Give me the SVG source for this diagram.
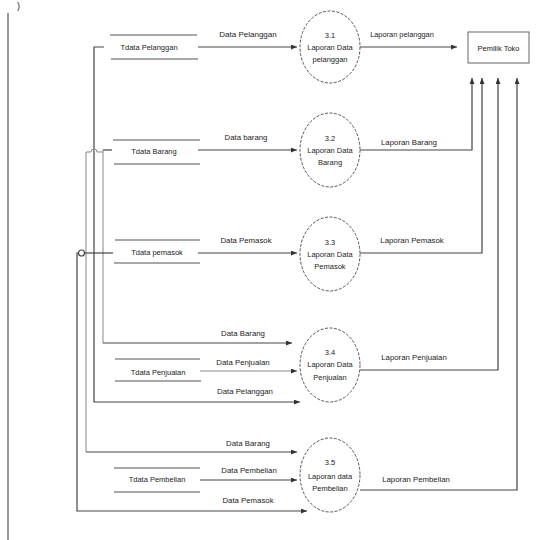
<svg xmlns="http://www.w3.org/2000/svg" width="557" height="540" viewBox="0 0 557 540">
<style>
text{font-family:"Liberation Sans",Arial,sans-serif;fill:#222;}
.s{font-size:7.5px;text-anchor:middle;}
.l{font-size:7.8px;text-anchor:middle;}
.st{stroke:#555;stroke-width:1.2;fill:none;}
.f{stroke:#444;stroke-width:1.2;fill:none;}
.fl{stroke:#888;stroke-width:1;fill:none;}
.p{fill:#fff;stroke:#555;stroke-width:1;stroke-dasharray:3,1.5;}
</style>
<defs>
<marker id="a" markerWidth="6" markerHeight="5" refX="6" refY="2.5" orient="auto" markerUnits="userSpaceOnUse">
<path d="M0,0 L6,2.5 L0,5 z" fill="#333"/>
</marker>
</defs>
<rect width="557" height="540" fill="#fff"/>
<line x1="8" y1="13" x2="8" y2="540" stroke="#555" stroke-width="1.2"/>
<text x="17" y="9" style="font-size:9px">)</text>

<g id="connectors">
<path class="f" d="M198,47 H297" marker-end="url(#a)"/>
<path class="f" d="M198,150 H297" marker-end="url(#a)"/>
<path class="f" d="M198,253 H297" marker-end="url(#a)"/>
<path class="fl" d="M200,371 H297" marker-end="url(#a)"/>
<path class="f" d="M200,480 H297" marker-end="url(#a)"/>
<path class="f" d="M104,47 H94 V402 H300" marker-end="url(#a)"/>
<path class="f" d="M112,150 H103" />
<path class="fl" d="M103,150 V343" />
<path class="f" d="M103,343 H292" marker-end="url(#a)"/>
<path class="fl" d="M103,152 H97 A3,3 0 0 0 91,152 H86 V452" />
<path class="f" d="M86,452 H297" marker-end="url(#a)"/>
<path class="f" d="M113,253 H84.5" />
<circle cx="81.5" cy="253" r="3" class="f"/>
<path class="f" d="M78.5,253 H77 V511 H307" marker-end="url(#a)"/>
<path class="f" d="M360,47 H457" marker-end="url(#a)"/>
<path class="f" d="M360,150 H472 V78" marker-end="url(#a)"/>
<path class="f" d="M360,253 H482 V78" marker-end="url(#a)"/>
<path class="f" d="M360,370 H498 V78" marker-end="url(#a)"/>
<path class="f" d="M360,490 H517 V78" marker-end="url(#a)"/>
<text class="l" x="248" y="37" style="font-size:8px">Data Pelanggan</text>
<text class="l" x="246" y="140">Data barang</text>
<text class="l" x="246" y="243">Data Pemasok</text>
<text class="l" x="243" y="336">Data Barang</text>
<text class="l" x="243" y="365">Data Penjualan</text>
<text class="l" x="245" y="394">Data Pelanggan</text>
<text class="l" x="248" y="446">Data Barang</text>
<text class="l" x="249" y="473">Data Pembelian</text>
<text class="l" x="248" y="503">Data Pemasok</text>
<text class="l" x="402" y="37" style="font-size:7.4px">Laporan pelanggan</text>
<text class="l" x="409" y="145">Laporan Barang</text>
<text class="l" x="412" y="243">Laporan Pemasok</text>
<text class="l" x="414" y="360">Laporan Penjualan</text>
<text class="l" x="416" y="482">Laporan Pembelian</text>
</g>

<g id="store-pelanggan">
<line class="st" x1="110" y1="35" x2="197" y2="35"/>
<line class="st" x1="111" y1="59" x2="198" y2="59"/>
<text class="s" x="149" y="50">Tdata Pelanggan</text>
</g>
<g id="store-barang">
<line class="st" x1="113" y1="140" x2="200" y2="140"/>
<line class="st" x1="114" y1="164" x2="200" y2="164"/>
<text class="s" x="154" y="154">Tdata Barang</text>
</g>
<g id="store-pemasok">
<line class="st" x1="115" y1="240" x2="200" y2="240"/>
<line class="st" x1="114" y1="263" x2="200" y2="263"/>
<text class="s" x="157" y="255">Tdata pemasok</text>
</g>
<g id="store-penjualan">
<line class="st" x1="115" y1="359" x2="200" y2="359" stroke="#999"/>
<line class="st" x1="115" y1="381" x2="201" y2="381"/>
<text class="s" x="158" y="375">Tdata Penjualan</text>
</g>
<g id="store-pembelian">
<line class="st" x1="114" y1="468" x2="200" y2="468"/>
<line class="st" x1="114" y1="492" x2="200" y2="492" stroke="#aaa"/>
<text class="s" x="157" y="482">Tdata Pembelian</text>
</g>

<g id="p31">
<ellipse class="p" cx="330" cy="47" rx="30" ry="36"/>
<text class="s" x="330" y="38">3.1</text>
<text class="s" x="330" y="50">Laporan Data</text>
<text class="s" x="330" y="62">pelanggan</text>
</g>
<g id="p32">
<ellipse class="p" cx="330" cy="150" rx="30" ry="37"/>
<text class="s" x="330" y="141">3.2</text>
<text class="s" x="330" y="153">Laporan Data</text>
<text class="s" x="330" y="165">Barang</text>
</g>
<g id="p33">
<ellipse class="p" cx="330" cy="254" rx="30" ry="37"/>
<text class="s" x="330" y="245">3.3</text>
<text class="s" x="330" y="257">Laporan Data</text>
<text class="s" x="330" y="269">Pemasok</text>
</g>
<g id="p34">
<ellipse class="p" cx="330" cy="365" rx="30" ry="37"/>
<text class="s" x="330" y="355">3.4</text>
<text class="s" x="330" y="367">Laporan Data</text>
<text class="s" x="330" y="380">Penjualan</text>
</g>
<g id="p35">
<ellipse class="p" cx="330" cy="475" rx="30" ry="37"/>
<text class="s" x="330" y="465">3.5</text>
<text class="s" x="330" y="479">Laporan data</text>
<text class="s" x="330" y="491">Pembelian</text>
</g>
<g id="pemilik-toko">
<rect x="468" y="32" width="61" height="31" fill="#fff" stroke="#666" stroke-width="1"/>
<text class="s" x="498.5" y="51">Pemilik Toko</text>
</g>
</svg>
